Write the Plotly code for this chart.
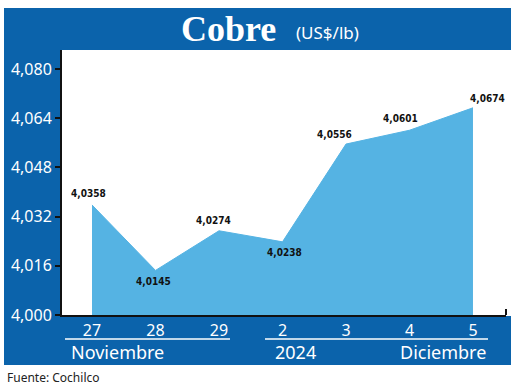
import plotly.graph_objects as go

# ---- data ----
dias = ["27", "28", "29", "2", "3", "4", "5"]
precios = [4.0358, 4.0145, 4.0274, 4.0238, 4.0556, 4.0601, 4.0674]
etiquetas = ["4,0358", "4,0145", "4,0274", "4,0238", "4,0556", "4,0601", "4,0674"]
y_ticks = [4.000, 4.016, 4.032, 4.048, 4.064, 4.080]
y_ticklabels = ["4,000", "4,016", "4,032", "4,048", "4,064", "4,080"]
meses = ["Noviembre", "2024", "Diciembre"]

# ---- style ----
W, H = 520, 387
L, R, T, B = 62, 14, 50, 72
PW, PH = W - L - R, H - T - B
BLUE = "#0b63ab"
FILL = "#55b3e3"
label_dx = [-4, -2, -5, 2, -11, -9, 15]
label_dy = [11, -11, 10, -11, 10, 12, 9]

def px(x):
    return (x - L) / PW

def py(y):
    return (H - B - y) / PH

xs = list(range(len(dias)))

fig = go.Figure()
fig.add_trace(go.Scatter(
    x=xs, y=precios, mode="lines", fill="tozeroy",
    line=dict(color=FILL, width=1), fillcolor=FILL,
    hoverinfo="skip", showlegend=False,
))

annotations = []
for i, (v, t) in enumerate(zip(precios, etiquetas)):
    annotations.append(dict(
        x=i, y=v, xref="x", yref="y", text=t, showarrow=False,
        xshift=label_dx[i], yshift=label_dy[i],
        font=dict(family="Liberation Sans Narrow, DejaVu Sans Condensed, Arial Narrow", size=10, color="#111111", weight="bold"),
    ))

def paper_text(txt, cx, cy, size, family, color="white", xanchor="center"):
    return dict(x=px(cx), y=py(cy), xref="paper", yref="paper", text=txt,
                xanchor=xanchor, yanchor="middle", showarrow=False,
                font=dict(family=family, size=size, color=color))

# title
annotations.append(paper_text("<b>Cobre</b>", 228, 29, 36, "Liberation Serif, DejaVu Serif"))
annotations.append(paper_text("(US$/lb)", 327, 32, 17, "Noto Sans, Open Sans"))
# months
for txt, cx in zip(meses, [117, 295, 443]):
    annotations.append(paper_text(txt, cx, 352, 18, "Noto Sans, Open Sans"))
# source
annotations.append(paper_text("Fuente: Cochilco", 5, 377, 12, "Noto Sans, Open Sans", "#222222", "left"))

shapes = [
    # title band
    dict(type="rect", xref="paper", yref="paper", x0=px(4), x1=px(511), y0=py(8), y1=py(50),
         fillcolor=BLUE, line=dict(width=0), layer="below"),
    # left band
    dict(type="rect", xref="paper", yref="paper", x0=px(4), x1=px(60), y0=py(50), y1=py(365),
         fillcolor=BLUE, line=dict(width=0), layer="below"),
    # bottom band
    dict(type="rect", xref="paper", yref="paper", x0=px(4), x1=px(511), y0=py(316), y1=py(365),
         fillcolor=BLUE, line=dict(width=0), layer="below"),
    # underlines
    dict(type="line", xref="paper", yref="paper", x0=px(65), x1=px(230), y0=py(339), y1=py(339),
         line=dict(color="white", width=1.5)),
    dict(type="line", xref="paper", yref="paper", x0=px(265), x1=px(488), y0=py(339), y1=py(339),
         line=dict(color="white", width=1.5)),
    # small end tick on x axis
    dict(type="line", xref="paper", yref="paper", x0=px(506), x1=px(506), y0=py(315), y1=py(309),
         line=dict(color="#111111", width=2)),
    # small left extension of x axis
    dict(type="line", xref="paper", yref="paper", x0=px(57), x1=px(62), y0=py(315), y1=py(315),
         line=dict(color="#111111", width=2)),
]

fig.update_layout(
    width=W, height=H,
    margin=dict(l=L, r=R, t=T, b=B, pad=0, autoexpand=False),
    paper_bgcolor="white", plot_bgcolor="rgba(0,0,0,0)",
    separators=",.",
    showlegend=False,
    annotations=annotations,
    shapes=shapes,
    xaxis=dict(
        range=[-0.4724, 6.52], tickmode="array", tickvals=xs, ticktext=dias,
        showgrid=False, zeroline=False, showline=True, linecolor="#111111", linewidth=2,
        ticks="", tickfont=dict(family="Noto Sans, Open Sans", size=16, color="white"),
        fixedrange=True, automargin=False,
    ),
    yaxis=dict(
        range=[4.0, 4.0862], tickmode="array", tickvals=y_ticks, ticktext=y_ticklabels,
        showgrid=False, zeroline=False, showline=True, linecolor="#111111", linewidth=2,
        ticks="outside", ticklen=5, tickwidth=2, tickcolor="#111111",
        tickfont=dict(family="Noto Sans, Open Sans", size=16, color="white"),
        fixedrange=True, automargin=False,
    ),
)

fig.write_html("out.html", config={"displayModeBar": False},
               post_script="document.body.style.margin='0';document.body.style.overflow='hidden';")
